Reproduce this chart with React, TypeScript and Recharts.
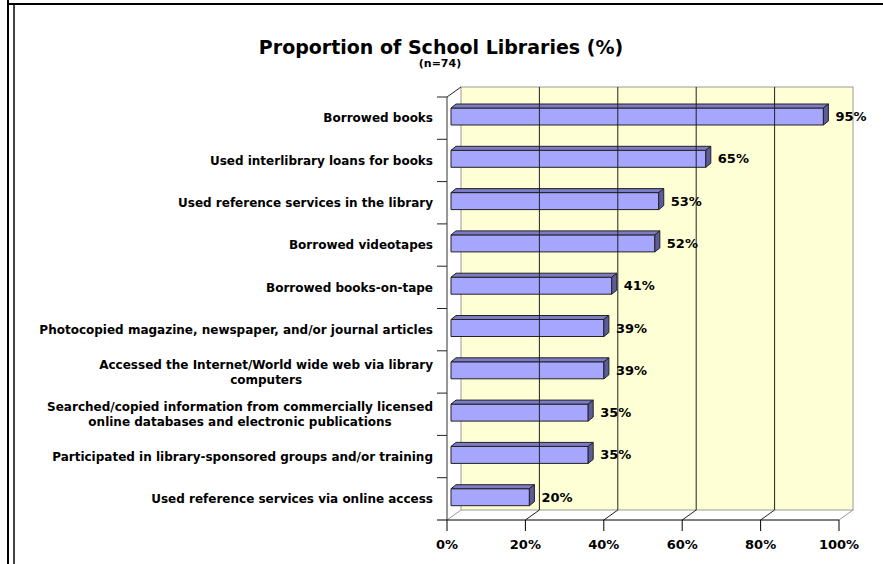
import React from "react";
import { BarChart, Bar, XAxis, YAxis, ReferenceArea, ReferenceLine, LabelList } from "recharts";

const categories = [
  "Borrowed books",
  "Used interlibrary loans for books",
  "Used reference services in the library",
  "Borrowed videotapes",
  "Borrowed books-on-tape",
  "Photocopied magazine, newspaper, and/or journal articles",
  "Accessed the Internet/World wide web via library\ncomputers",
  "Searched/copied information from commercially licensed\nonline databases and electronic publications",
  "Participated in library-sponsored groups and/or training",
  "Used reference services via online access",
];
const percents = [95, 65, 53, 52, 41, 39, 39, 35, 35, 20];
const xTicks = [0, 20, 40, 60, 80, 100];
const gridTicks = [20, 40, 60, 80];

const data = categories.map((name, i) => ({ name, value: percents[i] }));

const W = 883;
const H = 564;
const M = { top: 97, right: 44, bottom: 0, left: 7 };
const Y_AXIS_W = 440;
const X_AXIS_H = 44;
const AXIS_X = M.left + Y_AXIS_W;
const BAND = (H - M.top - M.bottom - X_AXIS_H) / categories.length;
// depth of the back wall and of the bars
const DX = 14;
const DY = -10;
const BX = 5;
const BY = -4;
const FONT = "'DejaVu Sans', Verdana, sans-serif";

let ctx: CanvasRenderingContext2D | null = null;
function textWidth(s: string, font: string) {
  if (!ctx) ctx = document.createElement("canvas").getContext("2d");
  if (!ctx) return s.length * 7;
  ctx.font = font;
  return ctx.measureText(s).width;
}

function CategoryTick(props: any) {
  const { y, payload, index } = props;
  const lines = String(payload.value).split("\n");
  const right = AXIS_X - 14;
  const widest = Math.max(...lines.map((l) => textWidth(l, `bold 12px ${FONT}`)));
  const multi = lines.length > 1;
  const lh = 15;
  const y0 = y - ((lines.length - 1) * lh) / 2;
  return (
    <g>
      <line x1={AXIS_X - 10} x2={AXIS_X} y1={y - BAND / 2} y2={y - BAND / 2} stroke="#222" />
      {index === categories.length - 1 && (
        <line x1={AXIS_X - 10} x2={AXIS_X} y1={y + BAND / 2} y2={y + BAND / 2} stroke="#000" />
      )}
      <text fontFamily={FONT} fontWeight="bold" fontSize={12} fill="#000" textAnchor={multi ? "middle" : "end"}>
        {lines.map((l, i) => (
          <tspan key={i} x={multi ? right - widest / 2 : right} y={y0 + i * lh} dy="0.35em">
            {l}
          </tspan>
        ))}
      </text>
    </g>
  );
}

function PctTick(props: any) {
  const { x, y, payload } = props;
  return (
    <text x={x} y={y + 16} textAnchor="middle" fontFamily={FONT} fontWeight="bold" fontSize={13} fill="#000">
      {payload.value}%
    </text>
  );
}

function Wall(props: any) {
  const { x, y, width, height } = props;
  return (
    <g>
      <rect x={x + DX} y={y + DY} width={width} height={height} fill="#FFFFD5" stroke="#999" />
      <line x1={x} y1={y} x2={x + DX} y2={y + DY} stroke="#222" />
      <line x1={x} y1={y + height} x2={x + DX} y2={y + height + DY} stroke="#999" />
      <line x1={x + width} y1={y + height} x2={x + width + DX} y2={y + height + DY} stroke="#999" />
    </g>
  );
}

function GridLine(props: any) {
  const { x1, y1, x2, y2 } = props;
  const bottom = Math.max(y1, y2);
  return (
    <g>
      <line x1={x1 + DX} y1={y1 + DY} x2={x2 + DX} y2={y2 + DY} stroke="#222" />
      <line x1={x1} y1={bottom} x2={x1 + DX} y2={bottom + DY} stroke="#222" />
    </g>
  );
}

function Bar3D(props: any) {
  const { x, y, width, height } = props;
  const x0 = x + 4;
  const y0 = y - 2;
  const w = width;
  const h = height;
  return (
    <g stroke="#222" strokeWidth={1} strokeLinejoin="round">
      <rect x={x0} y={y0} width={w} height={h} fill="#A6A6FF" />
      <polygon
        points={`${x0},${y0} ${x0 + BX},${y0 + BY} ${x0 + w + BX},${y0 + BY} ${x0 + w},${y0}`}
        fill="#7C7CC6"
      />
      <polygon
        points={`${x0 + w},${y0} ${x0 + w + BX},${y0 + BY} ${x0 + w + BX},${y0 + h + BY} ${x0 + w},${y0 + h}`}
        fill="#5C5C9A"
      />
    </g>
  );
}

function ValueLabel(props: any) {
  const { x, y, width, height, value } = props;
  return (
    <text
      x={x + 4 + width + BX + 7}
      y={y - 2 + height / 2}
      dy="0.35em"
      fontFamily={FONT}
      fontWeight="bold"
      fontSize={13}
      fill="#000"
    >
      {value}%
    </text>
  );
}

export default function App() {
  return (
    <div style={{ position: "absolute", left: 0, top: 0, width: W, height: H, background: "#fff", overflow: "hidden" }}>
      <div style={{ position: "absolute", left: 7, top: 0, width: 2, height: H, background: "#000" }} />
      <div style={{ position: "absolute", left: 13, top: 4, width: 2, height: H, background: "#444" }} />
      <div style={{ position: "absolute", left: 7, top: 3, width: W - 7, height: 2, background: "#000" }} />
      <div
        style={{
          position: "absolute",
          left: 0,
          width: 882,
          top: 37,
          lineHeight: "20px",
          textAlign: "center",
          fontFamily: FONT,
          fontWeight: "bold",
          fontSize: 19,
          color: "#000",
        }}
      >
        Proportion of School Libraries (%)
      </div>
      <div
        style={{
          position: "absolute",
          left: 0,
          width: 880,
          top: 58,
          lineHeight: "11px",
          textAlign: "center",
          fontFamily: FONT,
          fontWeight: "bold",
          fontSize: 11,
          color: "#000",
        }}
      >
        (n=74)
      </div>
      <div style={{ position: "absolute", left: 0, top: 0 }}>
        <BarChart width={W} height={H} data={data} layout="vertical" margin={M}>
          <ReferenceArea x1={0} x2={100} shape={Wall} />
          {gridTicks.map((t) => (
            <ReferenceLine key={t} x={t} shape={GridLine} />
          ))}
          <XAxis
            type="number"
            domain={[0, 100]}
            ticks={xTicks}
            interval={0}
            height={X_AXIS_H}
            tickSize={11}
            axisLine={{ stroke: "#000" }}
            tickLine={{ stroke: "#000" }}
            tick={(p: any) => <PctTick {...p} />}
          />
          <YAxis
            type="category"
            dataKey="name"
            width={Y_AXIS_W}
            interval={0}
            tickLine={false}
            axisLine={{ stroke: "#333" }}
            tick={(p: any) => <CategoryTick {...p} />}
          />
          <Bar dataKey="value" barSize={17} shape={Bar3D} isAnimationActive={false}>
            <LabelList dataKey="value" content={ValueLabel} />
          </Bar>
        </BarChart>
      </div>
    </div>
  );
}
